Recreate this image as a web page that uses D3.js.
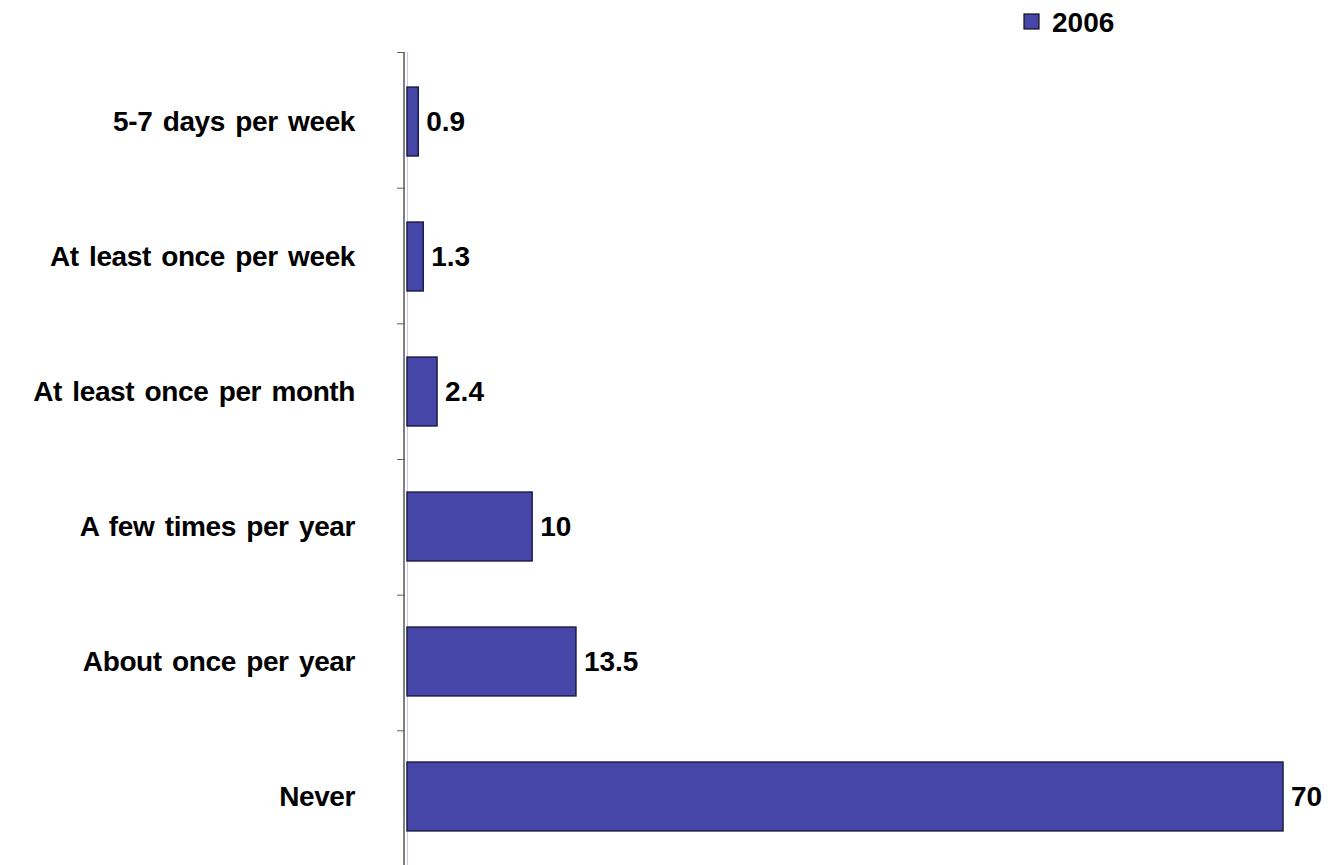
<!DOCTYPE html>
<html>
<head>
<meta charset="utf-8">
<script src="https://cdn.jsdelivr.net/npm/d3@7"></script>
<style>
  body { margin: 0; background: #fff; }
  text { font-family: "Liberation Sans", Arial, sans-serif; font-weight: bold; }
</style>
</head>
<body>
<div id="chart"></div>
<script>
// data
var categories = ["5-7 days per week", "At least once per week", "At least once per month",
                  "A few times per year", "About once per year", "Never"];
var values = [0.9, 1.3, 2.4, 10, 13.5, 70];
var seriesName = "2006";

var width = 1332, height = 865;

var svg = d3.select("#chart")
            .append("svg")
            .attr("width", width)
            .attr("height", height);

var xScale = d3.scaleLinear().domain([0, 70]).range([407, 1283]);
var yScale = d3.scaleBand().domain(categories).range([52, 866])
               .paddingInner(0.49).paddingOuter(0.26);
var yTicks = d3.scaleBand().domain(categories).range([52, 866]);

// faint plot edge line
svg.append("line")
    .attr("x1", 407.5).attr("x2", 407.5)
    .attr("y1", 52).attr("y2", 866)
    .attr("stroke", "#c8c8f0").attr("stroke-width", 1);

// y axis: line plus ticks at band edges
var yAxis = svg.append("g").attr("class", "yAxis");
yAxis.append("line")
    .attr("x1", 404).attr("x2", 404)
    .attr("y1", 52).attr("y2", 866)
    .attr("stroke", "#808080").attr("stroke-width", 2);
yAxis.selectAll(".tick")
    .data(categories)
    .enter().append("line")
    .attr("class", "tick")
    .attr("x1", 397).attr("x2", 405)
    .attr("y1", function(d){ return yTicks(d) + 0.5; })
    .attr("y2", function(d){ return yTicks(d) + 0.5; })
    .attr("stroke", "#606060").attr("stroke-width", 1);

// category labels
svg.selectAll(".catLabel")
    .data(categories)
    .enter().append("text")
    .attr("class", "catLabel")
    .attr("x", 355)
    .attr("y", function(d){ return yScale(d) + yScale.bandwidth() / 2; })
    .attr("dy", "0.35em")
    .attr("text-anchor", "end")
    .attr("font-size", 28)
    .attr("letter-spacing", -0.4)
    .attr("word-spacing", 3)
    .text(function(d){ return d; });

// bars
svg.selectAll(".bar")
    .data(values)
    .enter().append("rect")
    .attr("class", "bar")
    .attr("x", xScale(0))
    .attr("y", function(d, i){ return yScale(categories[i]); })
    .attr("width", function(d){ return xScale(d) - xScale(0); })
    .attr("height", yScale.bandwidth())
    .attr("fill", "#4646a8")
    .attr("stroke", "#1c1c48")
    .attr("stroke-width", 1.5);

// value labels
svg.selectAll(".valLabel")
    .data(values)
    .enter().append("text")
    .attr("class", "valLabel")
    .attr("x", function(d){ return xScale(d) + 8; })
    .attr("y", function(d, i){ return yScale(categories[i]) + yScale.bandwidth() / 2; })
    .attr("dy", "0.35em")
    .attr("font-size", 28)
    .text(function(d){ return d; });

// legend
var legend = svg.append("g").attr("class", "legend");
legend.append("rect")
    .attr("x", 1024).attr("y", 14)
    .attr("width", 15).attr("height", 15)
    .attr("fill", "#4646a8")
    .attr("stroke", "#111").attr("stroke-width", 1.2);
legend.append("text")
    .attr("x", 1052).attr("y", 32)
    .attr("font-size", 28)
    .text(seriesName);
</script>
</body>
</html>
